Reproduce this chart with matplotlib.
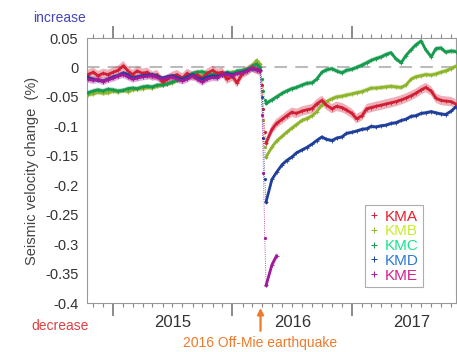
import numpy as np
import pandas as pd
import matplotlib
matplotlib.use('Agg')
import matplotlib.pyplot as plt
import matplotlib.dates as mdates
from matplotlib.lines import Line2D

plt.rcParams['font.family'] = ['Liberation Sans', 'DejaVu Sans']
plt.rcParams['axes.unicode_minus'] = False

# 日期：半月一点 + 地震前后几天
dates_pre = pd.date_range('2014-10-15', '2016-03-15', freq='SMS')
dates_eq = pd.to_datetime(['2016-03-25', '2016-04-01', '2016-04-05', '2016-04-09', '2016-04-13'])
dates_post = pd.date_range('2016-05-01', '2017-11-15', freq='SMS')
dates = dates_pre.append(dates_eq).append(dates_post)

names = ['KMA', 'KMB', 'KMC', 'KMD', 'KME']

kma = [-0.012, -0.008, -0.014, -0.010, -0.012, -0.008, -0.005, 0.003, -0.006, -0.012,
       -0.006, -0.010, -0.008, -0.015, -0.012, -0.025, -0.020, -0.015, -0.012, -0.018,
       -0.010, -0.015, -0.012, -0.018, -0.010, -0.005, -0.010, -0.008, -0.020, -0.015,
       -0.026, -0.010, -0.006, 0.000, -0.003,
       -0.005, -0.030, -0.070, -0.110, -0.128,
       -0.105, -0.095, -0.088, -0.082, -0.076, -0.078, -0.074, -0.072, -0.070, -0.062,
       -0.056, -0.064, -0.070, -0.066, -0.068, -0.072, -0.078, -0.087, -0.082, -0.070,
       -0.068, -0.066, -0.064, -0.062, -0.060, -0.058, -0.055, -0.052, -0.048, -0.044,
       -0.038, -0.034, -0.040, -0.052, -0.056, -0.057, -0.058, -0.062]

kmb = [-0.046, -0.045, -0.042, -0.044, -0.043, -0.040, -0.042, -0.039, -0.041, -0.038,
       -0.037, -0.036, -0.034, -0.035, -0.032, -0.030, -0.028, -0.026, -0.022, -0.020,
       -0.018, -0.015, -0.017, -0.014, -0.012, -0.015, -0.013, -0.010, -0.012, -0.008,
       -0.010, -0.006, -0.004, 0.003, 0.012,
       0.006, -0.040, -0.090, -0.135, -0.152,
       -0.135, -0.125, -0.117, -0.110, -0.103, -0.097, -0.090, -0.087, -0.082, -0.075,
       -0.064, -0.058, -0.053, -0.050, -0.049, -0.047, -0.045, -0.043, -0.041, -0.038,
       -0.035, -0.035, -0.034, -0.033, -0.032, -0.033, -0.034, -0.030, -0.020, -0.016,
       -0.014, -0.012, -0.013, -0.011, -0.008, -0.006, -0.002, 0.002]

kmc = [-0.043, -0.040, -0.038, -0.040, -0.037, -0.038, -0.040, -0.039, -0.036, -0.035,
       -0.036, -0.033, -0.032, -0.033, -0.030, -0.030, -0.028, -0.025, -0.022, -0.020,
       -0.015, -0.010, -0.008, -0.007, -0.010, -0.012, -0.010, -0.012, -0.008, -0.010,
       -0.006, -0.005, -0.003, 0.002, 0.006,
       0.000, -0.020, -0.040, -0.055, -0.061,
       -0.055, -0.050, -0.044, -0.040, -0.036, -0.034, -0.030, -0.027, -0.026, -0.020,
       -0.008, -0.004, -0.002, -0.006, -0.009, -0.005, -0.003, 0.000, 0.004, 0.008,
       0.012, 0.015, 0.018, 0.022, 0.025, 0.015, 0.008, 0.020, 0.030, 0.038,
       0.045, 0.030, 0.018, 0.032, 0.033, 0.026, 0.028, 0.027]

kmd = [-0.017, -0.020, -0.022, -0.023, -0.020, -0.016, -0.014, -0.009, -0.012, -0.018,
       -0.016, -0.014, -0.013, -0.012, -0.015, -0.018, -0.016, -0.014, -0.017, -0.020,
       -0.016, -0.012, -0.018, -0.020, -0.016, -0.014, -0.015, -0.012, -0.010, -0.012,
       -0.010, -0.008, -0.005, -0.002, -0.004,
       -0.005, -0.050, -0.120, -0.190, -0.228,
       -0.190, -0.178, -0.165, -0.158, -0.152, -0.145, -0.140, -0.136, -0.130, -0.124,
       -0.118, -0.122, -0.124, -0.120, -0.118, -0.112, -0.110, -0.108, -0.105, -0.104,
       -0.100, -0.101, -0.099, -0.098, -0.095, -0.094, -0.090, -0.088, -0.083, -0.082,
       -0.078, -0.077, -0.075, -0.077, -0.079, -0.080, -0.074, -0.067]

nan = np.nan
kme = [-0.020, -0.022, -0.020, -0.024, -0.021, -0.018, -0.015, -0.012, -0.016, -0.020,
       -0.018, -0.016, -0.015, -0.014, -0.017, -0.020, -0.018, -0.016, -0.020, -0.023,
       -0.020, -0.014, -0.020, -0.025, -0.020, -0.017, -0.018, -0.012, -0.012, -0.014,
       -0.010, -0.009, -0.006, -0.001, -0.004,
       -0.006, -0.080, -0.180, -0.290, -0.370,
       -0.335, -0.320] + [nan] * 36

errs = [0.008, 0.004, 0.004, 0.003, 0.006]

line_colors = ['#d11f35', '#8db52c', '#159a4e', '#1f3f9a', '#a3199a']
text_colors = ['#e8202e', '#c6ee2a', '#19e38e', '#2b78d6', '#d1228a']

fig = plt.figure(figsize=(4.57, 3.52), dpi=100)
ax = fig.add_axes([0.19, 0.139, 0.808, 0.753])

ax.axhline(0, color='#bbbbbb', lw=1.5, ls=(0, (6, 4)), zorder=1)

n_pre = len(dates_pre)
eq_idx = np.arange(n_pre, n_pre + len(dates_eq))   # 地震期间的点
series = [kma, kmb, kmc, kmd, kme]
draw_order = [1, 2, 0, 3, 4]
for i in draw_order:
    y = np.array(series[i], dtype=float)
    c = line_colors[i]
    y_thick = y.copy()
    y_thick[eq_idx[1:-1]] = np.nan   # 骤降段用细虚点线
    ax.fill_between(dates, y_thick - errs[i], y_thick + errs[i], color=c, alpha=0.35,
                    lw=0, zorder=2)
    ax.plot(dates, y_thick, color=c, lw=2.0, zorder=3)
    ax.plot(dates, y_thick, ls='none', marker='+', ms=3, mew=0.6, color=c, zorder=3)
    seg = np.arange(eq_idx[0], eq_idx[-1] + 1)
    ax.plot(dates[seg], y[seg], color=c, lw=0.6, ls=':', marker='.', ms=2.5, zorder=3)

ax.set_xlim(pd.Timestamp('2014-10-12'), pd.Timestamp('2017-11-16'))
ax.set_ylim(-0.4, 0.05)
ax.set_yticks([0.05, 0, -0.05, -0.1, -0.15, -0.2, -0.25, -0.3, -0.35, -0.4])
ax.set_yticklabels(['0.05', '0', '-0.05', '-0.1', '-0.15', '-0.2', '-0.25', '-0.3', '-0.35', '-0.4'])
ax.tick_params(axis='y', length=0, pad=6, labelsize=10.5, labelcolor='#333333')

ax.xaxis.set_major_locator(mdates.YearLocator())
ax.xaxis.set_minor_locator(mdates.MonthLocator())
ax.xaxis.set_major_formatter(plt.NullFormatter())
ax.tick_params(axis='x', which='major', direction='out', length=9, width=1.2,
               color='#777777', top=True, bottom=True)
ax.tick_params(axis='x', which='minor', direction='out', length=3, width=0.8,
               color='#888888', top=True, bottom=True)
for sp in ax.spines.values():
    sp.set_color('#999999')
    sp.set_linewidth(0.8)

xt = ax.get_xaxis_transform()
for yr in ['2015', '2016', '2017']:
    ax.text(mdates.date2num(pd.Timestamp(yr + '-07-02')), -0.075, yr, transform=xt,
            ha='center', va='center', fontsize=12, color='#333333')

ax.set_ylabel('Seismic velocity change  (%)', fontsize=10.5, color='#444444', labelpad=4)

# 地震箭头
eq_x = mdates.date2num(pd.Timestamp('2016-03-27'))
ax.annotate('', xy=(eq_x, -0.008), xytext=(eq_x, -0.115),
            xycoords=xt, textcoords=xt,
            arrowprops=dict(arrowstyle='-|>', color='#ee7a2a', lw=1.6, mutation_scale=9),
            annotation_clip=False)
ax.text(eq_x, -0.15, '2016 Off-Mie earthquake', transform=xt,
        ha='center', va='center', fontsize=10, color='#ee7a2a')

fig.text(0.131, 0.949, 'increase', ha='center', va='center', fontsize=10, color='#4444bb')
fig.text(0.131, 0.074, 'decrease', ha='center', va='center', fontsize=10, color='#e04040')

handles = [Line2D([], [], ls='none', marker='+', ms=4, mew=0.7, color=line_colors[i])
           for i in range(5)]
leg = ax.legend(handles, names, loc='lower left', bbox_to_anchor=(0.752, 0.06),
                fontsize=11, frameon=True, fancybox=False, handlelength=0.6,
                handletextpad=0.4, labelspacing=0.05, borderpad=0.3, borderaxespad=0)
leg.get_frame().set_edgecolor('#999999')
leg.get_frame().set_linewidth(0.8)
for t, c in zip(leg.get_texts(), text_colors):
    t.set_color(c)

fig.savefig('out.png', dpi=100)
